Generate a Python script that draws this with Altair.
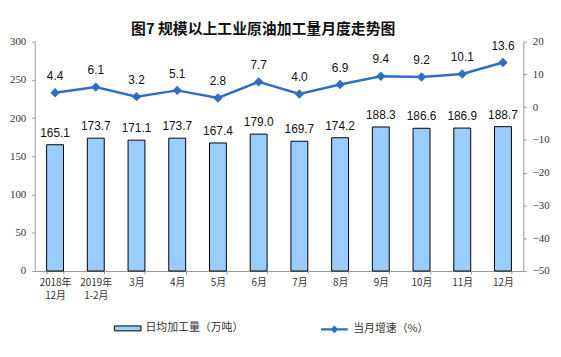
import altair as alt
import pandas as pd

categories = ["2018年\n12月", "2019年\n1-2月", "3月", "4月", "5月", "6月",
              "7月", "8月", "9月", "10月", "11月", "12月"]
daily = [165.1, 173.7, 171.1, 173.7, 167.4, 179.0, 169.7, 174.2, 188.3, 186.6, 186.9, 188.7]
growth = [4.4, 6.1, 3.2, 5.1, 2.8, 7.7, 4.0, 6.9, 9.4, 9.2, 10.1, 13.6]
left_ticks = [0, 50, 100, 150, 200, 250, 300]
right_ticks = [-50, -40, -30, -20, -10, 0, 10, 20]
series_bar = "日均加工量（万吨）"
series_line = "当月增速（%）"

df = pd.DataFrame({"month": categories, "daily": daily, "growth": growth,
                   "s1": series_bar, "s2": series_line})

CJK = "Noto Sans CJK SC"
SERIF = "Liberation Serif"
SANS = "Liberation Sans"
BLUE = "#2E6FC4"
BARFILL = "#99CCFF"
AXC = "#999999"

x = alt.X("month:N", sort=categories, title=None,
          scale=alt.Scale(paddingInner=0.585, paddingOuter=0.2925),
          axis=alt.Axis(labelAngle=0, labelExpr="split(datum.label, '\\n')",
                        labelFont=CJK, labelFontSize=10, labelColor="#333333",
                        labelLineHeight=13, labelPadding=4, tickBand="extent",
                        tickSize=3, tickColor=AXC, domainColor=AXC, grid=False))

y_left = alt.Y("daily:Q", title=None,
               scale=alt.Scale(domain=[0, 300], nice=False, zero=True),
               axis=alt.Axis(orient="left", values=left_ticks, labelFont=SERIF,
                             labelFontSize=11, labelColor="#333333", labelPadding=6,
                             tickSize=3, tickColor=AXC, domainColor=AXC, grid=False))

y_right = alt.Y("growth:Q", title=None,
                scale=alt.Scale(domain=[-50, 20], nice=False, zero=False),
                axis=alt.Axis(orient="right", values=right_ticks, labelFont=SERIF,
                              labelFontSize=11, labelColor="#333333", labelPadding=6,
                              tickSize=3, tickColor=AXC, domainColor=AXC, grid=False))

base = alt.Chart(df)

bars = base.mark_bar(stroke="black", strokeWidth=1).encode(
    x=x, y=y_left,
    fill=alt.Fill("s1:N", scale=alt.Scale(range=[BARFILL]),
                  legend=alt.Legend(title=None, orient="none", legendX=80, legendY=276,
                                    symbolType="M-1,-0.185H1V0.185H-1Z", symbolSize=729,
                                    symbolStrokeColor="black", symbolStrokeWidth=1,
                                    labelFont=CJK, labelFontSize=11, labelColor="#333333",
                                    labelOffset=4, padding=0)))
bar_text = base.mark_text(dy=-8, baseline="alphabetic", font=SANS, fontSize=12,
                          color="#111111").encode(
    x=x, y=y_left, text=alt.Text("daily:Q", format=".1f"))

line = base.mark_line(strokeWidth=2.5, point=alt.OverlayMarkDef(
    shape="diamond", size=45, filled=True, color=BLUE)).encode(
    x=x, y=y_right,
    stroke=alt.Stroke("s2:N", scale=alt.Scale(range=[BLUE]),
                      legend=alt.Legend(title=None, orient="none", legendX=288, legendY=276,
                                        symbolType="M-1,0H1M-0.16,0L0,-0.16L0.16,0L0,0.16Z",
                                        symbolSize=729, symbolStrokeWidth=2.5,
                                        symbolFillColor=BLUE,
                                        labelFont=CJK, labelFontSize=11, labelColor="#333333",
                                        labelOffset=4, padding=0)))
line_text = base.mark_text(dy=-13, baseline="alphabetic", font=SANS, fontSize=12,
                           color="#111111").encode(
    x=x, y=y_right, text=alt.Text("growth:Q", format=".1f"))

left = alt.layer(bars, bar_text)
right = alt.layer(line, line_text)

chart = alt.layer(left, right).resolve_scale(y="independent").properties(
    width=494, height=232,
    autosize=alt.AutoSizeParams(type="none"),
    padding={"left": 27, "top": 32, "right": 30, "bottom": 85},
    title=alt.TitleParams("图7  规模以上工业原油加工量月度走势图", font=CJK, fontSize=15,
                          fontWeight="bold", color="#111111", anchor="middle", dx=-16,
                          dy=9, offset=8),
    background="white",
).configure_view(stroke=None)

chart.save("out.html", embed_options={"renderer": "svg", "actions": False})
